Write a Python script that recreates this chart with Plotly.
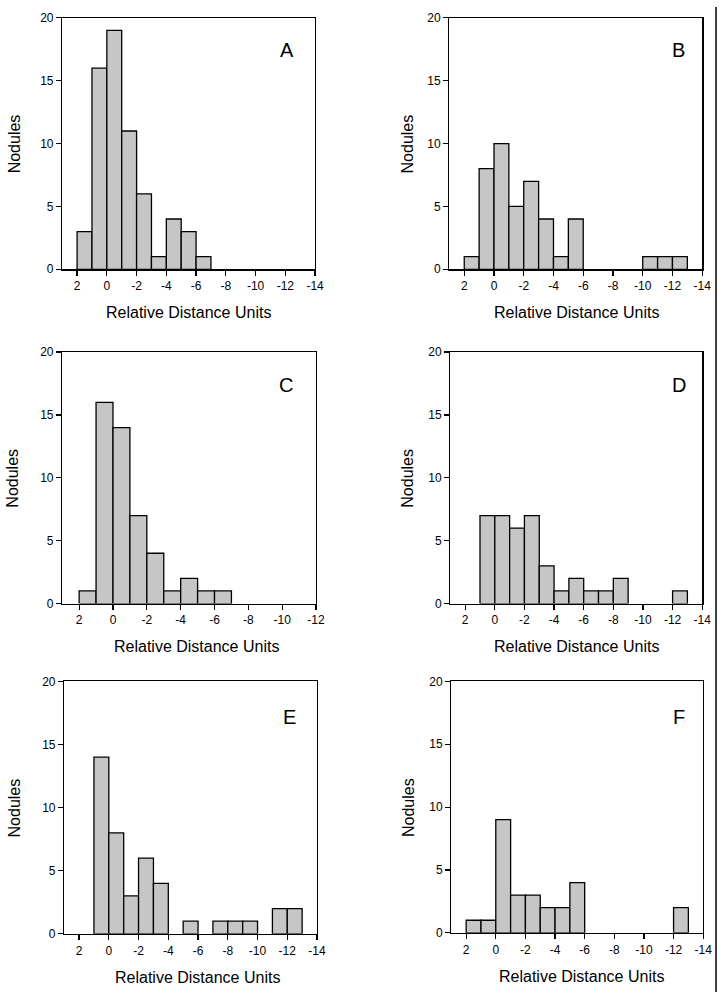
import plotly.graph_objects as go

W, H = 728, 999

# Bin left edges (each bin spans [edge, edge-1]) on the Relative Distance axis
bin_left = [2, 1, 0, -1, -2, -3, -4, -5, -6, -7, -8, -9, -10, -11, -12]

counts_A = [3, 16, 19, 11, 6, 1, 4, 3, 1, 0, 0, 0, 0, 0, 0]
counts_B = [1, 8, 10, 5, 7, 4, 1, 4, 0, 0, 0, 0, 1, 1, 1]
counts_C = [1, 16, 14, 7, 4, 1, 2, 1, 1, 0, 0, 0, 0, 0, 0]
counts_D = [0, 7, 7, 6, 7, 3, 1, 2, 1, 1, 2, 0, 0, 0, 1]
counts_E = [0, 14, 8, 3, 6, 4, 0, 1, 0, 1, 1, 1, 0, 2, 2]
counts_F = [1, 1, 9, 3, 3, 2, 2, 4, 0, 0, 0, 0, 0, 0, 2]

panel_labels = ["A", "B", "C", "D", "E", "F"]
panel_counts = [counts_A, counts_B, counts_C, counts_D, counts_E, counts_F]
x_ticks_14 = [2, 0, -2, -4, -6, -8, -10, -12, -14]
x_ticks_12 = [2, 0, -2, -4, -6, -8, -10, -12]
y_ticks = [0, 5, 10, 15, 20]

x_title = "Relative Distance Units"
y_title = "Nodules"

# layout geometry in pixels: left, right, top, bottom
boxes = [
    (63, 319, 11, 266),
    (455, 711, 11, 266),
    (63, 320, 350, 605),
    (456, 711, 350, 605),
    (65, 321, 684, 940),
    (457, 712, 684, 939),
]
x_min = [-14, -14, -12, -14, -14, -14]
x_title_cx = [191, 584, 199, 584, 200, 589]
y_title_cx = [15, 413, 13, 413, 15, 413]
letter_pos = [(291, 44), (687, 44), (290, 383), (687, 383), (293, 720), (688, 720)]

FONT = "Liberation Sans, Arial, sans-serif"
BAR_FILL = "#c6c6c6"

fig = go.Figure()
annotations = []

for i, (lab, cnt) in enumerate(zip(panel_labels, panel_counts)):
    n = i + 1
    xs = [e - 0.5 for e, c in zip(bin_left, cnt) if c > 0]
    ys = [c for c in cnt if c > 0]
    fig.add_trace(go.Bar(
        x=xs, y=ys, width=1.0,
        marker=dict(color=BAR_FILL, line=dict(color="black", width=1.3)),
        xaxis=f"x{n}", yaxis=f"y{n}", showlegend=False, hoverinfo="skip",
    ))
    l, r, t, b = boxes[i]
    ticks = x_ticks_14 if x_min[i] == -14 else x_ticks_12
    fig.layout[f"xaxis{n}"] = dict(
        domain=[l / W, r / W], anchor=f"y{n}", range=[3, x_min[i]],
        tickvals=ticks, ticktext=[str(v) for v in ticks],
        ticks="outside", ticklen=5, tickwidth=1.2, tickcolor="black",
        showline=True, linecolor="black", linewidth=1.3, mirror=True,
        showgrid=False, zeroline=False, fixedrange=True,
        tickfont=dict(family=FONT, size=12, color="black"),
    )
    fig.layout[f"yaxis{n}"] = dict(
        domain=[1 - b / H, 1 - t / H], anchor=f"x{n}", range=[0, 20],
        tickvals=y_ticks, ticks="outside", ticklen=5, tickwidth=1.2, tickcolor="black",
        showline=True, linecolor="black", linewidth=1.3, mirror=True,
        showgrid=False, zeroline=False, fixedrange=True,
        tickfont=dict(family=FONT, size=12, color="black"),
    )
    # axis titles
    annotations.append(dict(
        text=x_title, xref="paper", yref="paper",
        x=x_title_cx[i] / W, y=1 - (b + 44) / H, showarrow=False,
        xanchor="center", yanchor="middle",
        font=dict(family=FONT, size=16, color="black"),
    ))
    annotations.append(dict(
        text=y_title, xref="paper", yref="paper", textangle=-90,
        x=y_title_cx[i] / W, y=1 - ((t + b) / 2) / H, showarrow=False,
        xanchor="center", yanchor="middle",
        font=dict(family=FONT, size=16, color="black"),
    ))
    lx, ly = letter_pos[i]
    annotations.append(dict(
        text=lab, xref="paper", yref="paper",
        x=lx / W, y=1 - ly / H, showarrow=False,
        xanchor="center", yanchor="middle",
        font=dict(family=FONT, size=20, color="black"),
    ))

fig.update_layout(
    width=W, height=H,
    margin=dict(l=0, r=0, t=0, b=0),
    paper_bgcolor="white", plot_bgcolor="white",
    bargap=0, annotations=annotations,
    shapes=[dict(type="line", xref="paper", yref="paper",
                 x0=725 / W, x1=725 / W, y0=0, y1=1,
                 line=dict(color="black", width=1.5))],
)

fig.write_html(
    "out.html",
    config={"displayModeBar": False, "staticPlot": True},
    post_script="document.body.style.margin='0';document.body.style.overflow='hidden';",
)
